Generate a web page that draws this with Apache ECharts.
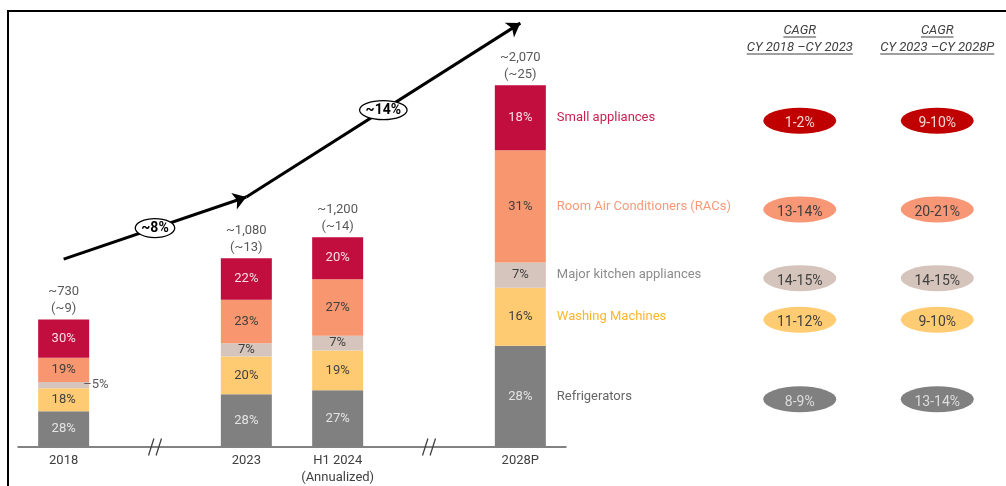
<!DOCTYPE html>
<html>
<head>
<meta charset="utf-8">
<script src="https://cdn.jsdelivr.net/npm/echarts@6/dist/echarts.min.js"></script>
<style>
  html, body { margin: 0; padding: 0; background: #fff; }
  #echart { width: 1006px; height: 486px; }
</style>
</head>
<body>
<div id="echart"></div>
<script>
// categories ('break-*' are the axis breaks drawn as //)
var categories = ['2018', 'break-1', '2023', 'H1 2024\n(Annualized)', 'break-2', '2028P'];
var totals     = [730, null, 1080, 1200, null, 2070];
var totalsUsd  = [9, null, 13, 14, null, 25];

// stacked from bottom to top
var segments = ['Refrigerators', 'Washing Machines', 'Major kitchen appliances', 'Room Air Conditioners (RACs)', 'Small appliances'];
var shareRefrigerators = [28, null, 28, 27, null, 28];
var shareWashing       = [18, null, 20, 19, null, 16];
var shareKitchen       = [5,  null, 7,  7,  null, 7];
var shareRacs          = [19, null, 23, 27, null, 31];
var shareSmall         = [30, null, 22, 20, null, 18];

var cagrPeriods    = ['CY 2018 \u2013CY 2023', 'CY 2023 \u2013CY 2028P'];
var cagr2018to2023 = ['8-9%', '11-12%', '14-15%', '13-14%', '1-2%'];
var cagr2023to2028 = ['13-14%', '9-10%', '14-15%', '20-21%', '9-10%'];

var overallCagr = ['~8%', '~14%'];
var arrowAt     = ['2018', '2023', '2028P'];
var arrowLevels = [1075, 1430, 2425];

var FONT = 'Roboto';
var barColors     = ['#808080', '#FFCB72', '#D6C5BC', '#F8966F', '#C20E3E'];
var inLabelColors = ['#e4e4e4', '#404040', '#404040', '#404040', '#f6dde4'];
var nameColors    = ['#666666', '#FFB52B', '#8C8C8C', '#F79A7A', '#CC1F50'];
var pillColors    = ['#808080', '#FFCC73', '#D5C4BC', '#F79776', '#C00000'];
var pillText      = ['#dddddd', '#404040', '#404040', '#404040', '#f6d6d6'];

var shares = [shareRefrigerators, shareWashing, shareKitchen, shareRacs, shareSmall];
var last = categories.length - 1;

function segValue(s, i){
	return totals[i] == null ? '-' : totals[i] * shares[s][i] / 100;
}

var series = [];

// the stacked bars
segments.forEach(function(name, s){
	series.push({
		name: name, type: 'bar', stack: 'share', barWidth: 51, barGap: '-100%',
		itemStyle: { color: barColors[s] },
		label: {
			show: true, position: 'inside', fontFamily: FONT, fontSize: 13, color: inLabelColors[s],
			formatter: function(p){ return (p.value < 50 ? '\u2013' : '') + shares[s][p.dataIndex] + '%'; }
		},
		data: categories.map(function(c, i){
			var v = segValue(s, i);
			if (v !== '-' && v < 50) {
				return { value: v, label: { position: 'right', distance: -6, color: '#595959' } };
			}
			return v;
		})
	});
});

// segment names next to the last bar
segments.forEach(function(name, s){
	series.push({
		name: name + ' name', type: 'bar', stack: 'names', barWidth: 51, barGap: '-100%', silent: true,
		itemStyle: { color: 'transparent' },
		label: {
			show: true, position: 'right', distance: 11, fontFamily: FONT, fontSize: 13, color: nameColors[s],
			formatter: function(p){ return p.dataIndex === last ? name : ''; }
		},
		data: categories.map(function(c, i){ return segValue(s, i); })
	});
});

// totals above bars
series.push({
	name: 'Total', type: 'bar', barWidth: 51, barGap: '-100%', silent: true,
	itemStyle: { color: 'transparent' },
	label: {
		show: true, position: 'top', distance: 2, fontFamily: FONT, fontSize: 13, lineHeight: 17, color: '#595959',
		formatter: function(p){
			return '~' + totals[p.dataIndex].toLocaleString('en-US') + '\n(~' + totalsUsd[p.dataIndex] + ')';
		}
	},
	data: totals.map(function(t){ return t == null ? '-' : t; })
});

// axis break marks
series.push({
	type: 'scatter', silent: true, clip: false, z: 5,
	symbol: 'path://M0,17L5,0M7,17L12,0', symbolSize: [13, 17],
	itemStyle: { color: 'none', borderColor: '#404040', borderWidth: 1.5, opacity: 1 },
	data: categories.map(function(c, i){ return c.indexOf('break') === 0 ? [i, 0] : null; })
		.filter(function(d){ return d; })
});

// growth arrows
var arrowIdx = arrowAt.map(function(c){ return categories.indexOf(c); });
series.push({
	type: 'line', data: [], silent: true,
	markLine: {
		silent: true, animation: false, symbol: ['none', 'arrow'], symbolSize: 13,
		label: { show: false },
		lineStyle: { color: '#000', width: 3, type: 'solid' },
		data: [
			[{ coord: [arrowIdx[0], arrowLevels[0]] }, { coord: [arrowIdx[1], arrowLevels[1]] }],
			[{ coord: [arrowIdx[1], arrowLevels[1]] }, { coord: [arrowIdx[2], arrowLevels[2]] }]
		]
	}
});

// CAGR table pills, rows at the middle of each 2028P segment
var pillData = [];
var cum = 0;
segments.forEach(function(name, s){
	var mid = totals[last] * (cum + shares[s][last] / 2) / 100;
	cum += shares[s][last];
	[cagr2018to2023, cagr2023to2028].forEach(function(arr, k){
		pillData.push({ value: [k, mid], name: arr[s], itemStyle: { color: pillColors[s] }, label: { color: pillText[s] } });
	});
});
series.push({
	type: 'scatter', xAxisIndex: 1, yAxisIndex: 1, silent: true,
	symbol: 'circle', symbolSize: [73, 26], symbolOffset: [0, 3],
	itemStyle: { opacity: 1 },
	label: { show: true, position: 'inside', offset: [0, 3], fontFamily: FONT, fontSize: 14,
		formatter: function(p){ return p.name; } },
	data: pillData
});

var chart = echarts.init(document.getElementById('echart'));
chart.setOption({
	animation: false,
	grid: [
		{ left: 18, width: 548, top: 10, bottom: 39 },
		{ left: 731, width: 285, top: 10, bottom: 39 }
	],
	xAxis: [
		{
			type: 'category', gridIndex: 0, data: categories,
			axisLine: { lineStyle: { color: '#595959', width: 1.5 } },
			axisTick: { show: false },
			axisLabel: {
				interval: 0, margin: 5, fontFamily: FONT, fontSize: 13, lineHeight: 17, color: '#404040',
				formatter: function(v){ return v.indexOf('break') === 0 ? '' : v; }
			}
		},
		{
			type: 'category', gridIndex: 1, position: 'top', data: cagrPeriods,
			axisLine: { show: false }, axisTick: { show: false },
			axisLabel: {
				inside: true, margin: 12, interval: 0, fontFamily: FONT, fontStyle: 'italic', fontSize: 13,
				lineHeight: 17, color: '#404040',
				formatter: function(v){ return 'CAGR\n' + v; }
			}
		}
	],
	yAxis: [
		{ type: 'value', gridIndex: 0, min: 0, max: 2500, show: false },
		{ type: 'value', gridIndex: 1, min: 0, max: 2500, show: false }
	],
	series: series
});

// decorations: frame, CAGR tags on the arrows, header underlines
var ctx = document.createElement('canvas').getContext('2d');
function textWidth(t, font){ ctx.font = font; return ctx.measureText(t).width; }

var graphics = [{
	type: 'rect', silent: true, shape: { x: 8, y: 11, width: 1100, height: 600 },
	style: { fill: 'none', stroke: '#000', lineWidth: 2 }
}];

var pts = arrowIdx.map(function(ci, k){ return chart.convertToPixel({ gridIndex: 0 }, [ci, arrowLevels[k]]); });
overallCagr.forEach(function(t, k){
	var cx = (pts[k][0] + pts[k + 1][0]) / 2;
	var cy = (pts[k][1] + pts[k + 1][1]) / 2;
	var rx = textWidth(t, 'bold 14px Roboto') / 2 + 6;
	graphics.push({ type: 'ellipse', z: 100, silent: true, shape: { cx: cx, cy: cy, rx: rx, ry: 9.5 },
		style: { fill: '#fff', stroke: '#000', lineWidth: 1.3 } });
	graphics.push({ type: 'text', z: 101, silent: true, x: cx, y: cy,
		style: { text: t, fontSize: 14, fontWeight: 'bold', fontFamily: FONT, fill: '#000',
			align: 'center', verticalAlign: 'middle' } });
});

cagrPeriods.forEach(function(p){
	var x = chart.convertToPixel({ xAxisIndex: 1 }, p);
	[['CAGR', 37], [p, 54]].forEach(function(a){
		var w = textWidth(a[0], 'italic 13px Roboto');
		graphics.push({ type: 'line', silent: true, shape: { x1: x - w / 2, y1: a[1], x2: x + w / 2, y2: a[1] },
			style: { stroke: '#404040', lineWidth: 1 } });
	});
});

chart.setOption({ graphic: graphics });
</script>
</body>
</html>
